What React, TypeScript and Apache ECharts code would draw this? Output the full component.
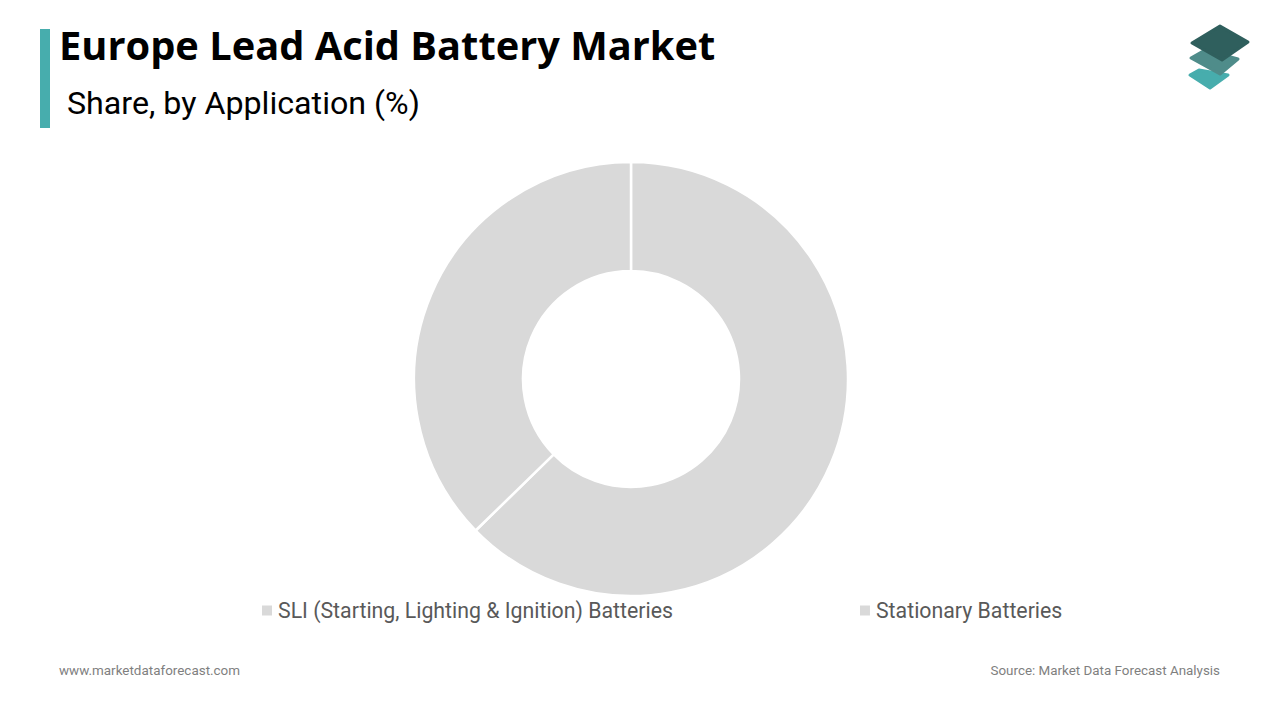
import React, { useEffect, useRef } from 'react';
import * as echarts from 'echarts';

const categories = ['SLI (Starting, Lighting & Ignition) Batteries', 'Stationary Batteries'];
const shares = [62.7, 37.3];
const sliceColor = '#d9d9d9';

const logoLayer = (points: number[][], fill: string) => ({
  type: 'polygon',
  shape: { points },
  style: { fill, stroke: fill, lineWidth: 3, lineJoin: 'round' }
});

const App: React.FC = () => {
  const chartRef = useRef<HTMLDivElement | null>(null);

  useEffect(() => {
    if (!chartRef.current) return;
    const chart = echarts.init(chartRef.current, null, { renderer: 'svg' });

    chart.setOption({
      animation: false,
      backgroundColor: '#ffffff',
      legend: {
        data: categories,
        left: 262,
        top: 600,
        padding: 0,
        icon: 'rect',
        itemWidth: 10,
        itemHeight: 10,
        itemGap: 187,
        selectedMode: false,
        itemStyle: { borderWidth: 0 },
        textStyle: {
          color: '#595959',
          fontFamily: 'Roboto',
          fontSize: 21.3,
          padding: [0, 0, 0, 1]
        }
      },
      series: [
        {
          type: 'pie',
          center: [631, 379],
          radius: [108, 217],
          startAngle: 90,
          clockwise: true,
          label: { show: false },
          labelLine: { show: false },
          silent: true,
          itemStyle: { borderColor: '#ffffff', borderWidth: 2.5 },
          data: categories.map((name, i) => ({
            name,
            value: shares[i],
            itemStyle: { color: sliceColor }
          }))
        }
      ],
      graphic: [
        { type: 'rect', shape: { x: 40, y: 29, width: 10, height: 99 }, style: { fill: '#47adad' } },
        {
          type: 'text',
          x: 59,
          y: 24,
          style: {
            text: 'Europe Lead Acid Battery Market',
            fill: '#000000',
            font: 'bold 39.8px "Open Sans"'
          }
        },
        {
          type: 'text',
          x: 67,
          y: 87,
          style: {
            text: 'Share, by Application (%)',
            fill: '#000000',
            font: '32.2px Roboto'
          }
        },
        {
          type: 'text',
          x: 59,
          y: 664,
          style: {
            text: 'www.marketdataforecast.com',
            fill: '#7f7f7f',
            font: '13.45px Roboto'
          }
        },
        {
          type: 'text',
          x: 1220,
          y: 664,
          style: {
            text: 'Source: Market Data Forecast Analysis',
            fill: '#7f7f7f',
            font: '13.4px Roboto',
            align: 'right'
          }
        },
        logoLayer([[1190, 75], [1199, 70], [1228, 75], [1210, 88]], '#47adad'),
        logoLayer([[1191, 58], [1205, 50], [1238, 59], [1220, 74]], '#4f8c8a'),
        logoLayer([[1192, 43], [1220, 26], [1248, 42], [1222, 60]], '#2f5f5d')
      ]
    });

    return () => {
      chart.dispose();
    };
  }, []);

  return (
    <div
      ref={chartRef}
      style={{ position: 'fixed', left: 0, top: 0, width: 1280, height: 720 }}
    />
  );
};

export default App;
